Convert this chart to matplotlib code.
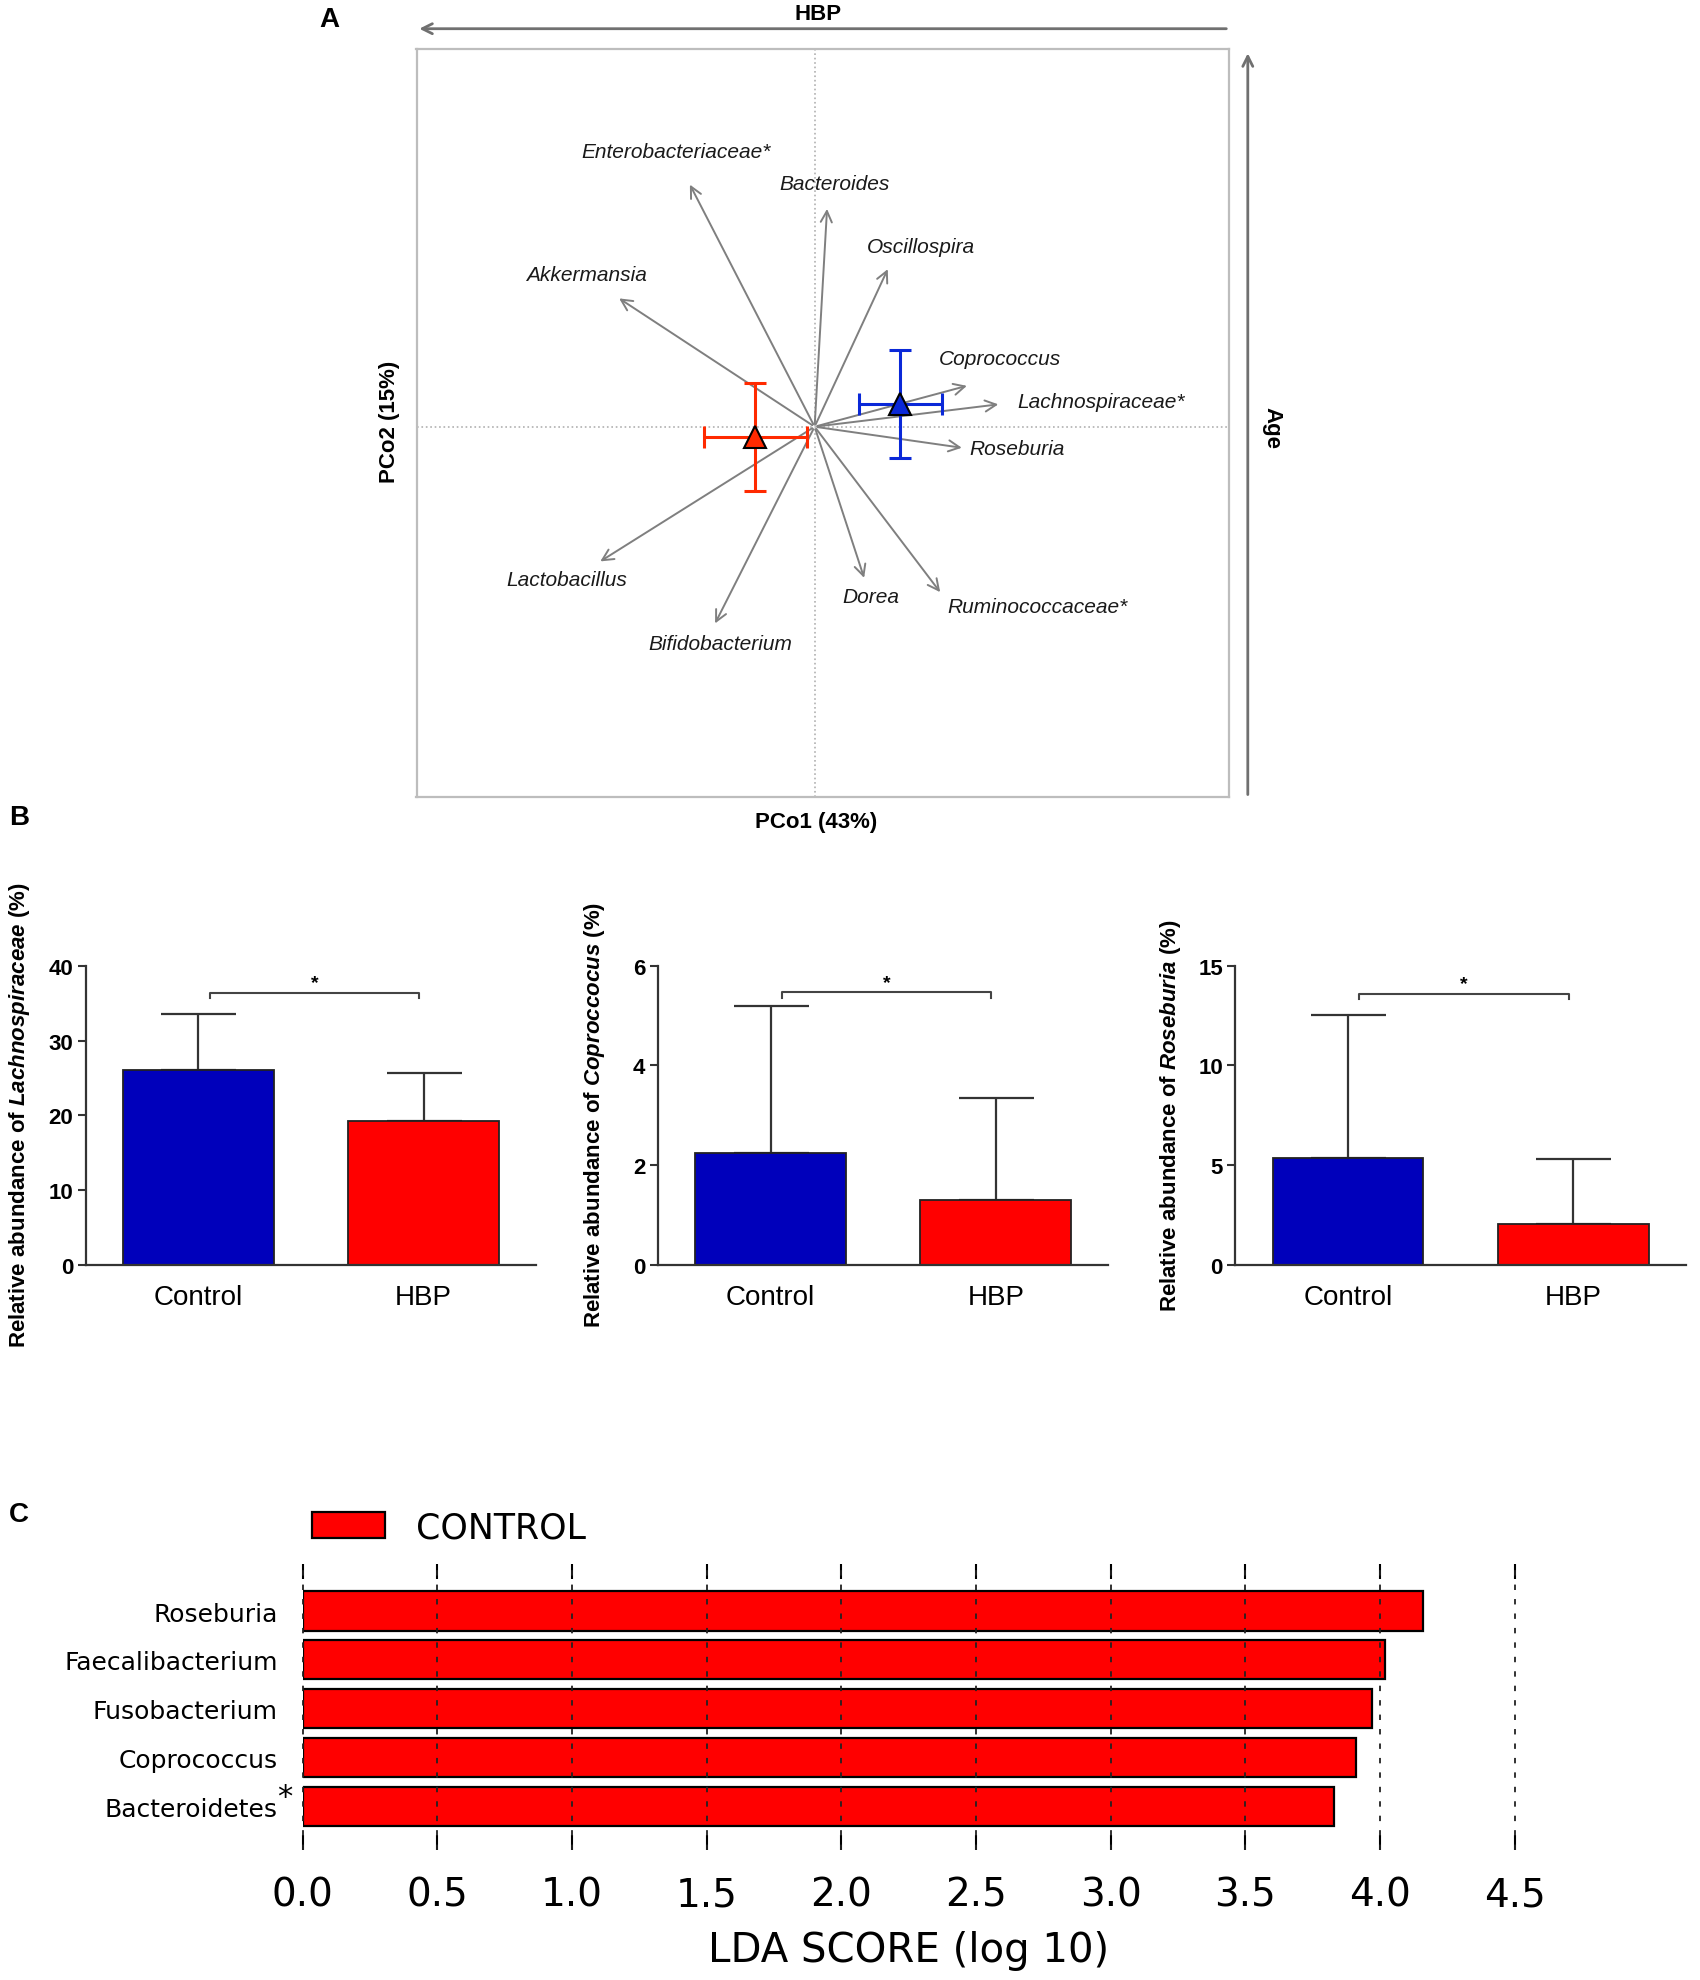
import matplotlib
matplotlib.use('Agg')
import matplotlib.pyplot as plt
from matplotlib.patches import Patch

plt.rcParams['font.family'] = ['Liberation Sans', 'DejaVu Sans']
plt.rcParams['mathtext.fontset'] = 'custom'
plt.rcParams['mathtext.rm'] = 'Liberation Sans:bold'
plt.rcParams['mathtext.it'] = 'Liberation Sans:italic:bold'
plt.rcParams['mathtext.bf'] = 'Liberation Sans:bold'

# --- panel A: PCoA biplot ---
taxa = ['Enterobacteriaceae*', 'Bacteroides', 'Oscillospira', 'Akkermansia', 'Coprococcus',
        'Lachnospiraceae*', 'Roseburia', 'Ruminococcaceae*', 'Dorea', 'Bifidobacterium', 'Lactobacillus']
load_x = [-1.00, 0.10, 0.59, -1.57, 1.23, 1.48, 1.19, 1.01, 0.40, -0.80, -1.72]
load_y = [1.94, 1.75, 1.27, 1.03, 0.33, 0.18, -0.17, -1.33, -1.22, -1.58, -1.08]
groups = ['HBP', 'Control']
cent_x = [-0.47, 0.68]
cent_y = [-0.08, 0.18]
err_x = [0.41, 0.33]
err_y = [0.43, 0.43]

# --- panel B: relative abundances ---
bar_groups = ['Control', 'HBP']
lachno_mean = [26.0, 19.2]
lachno_sd = [7.5, 6.4]
copro_mean = [2.25, 1.3]
copro_sd = [2.95, 2.05]
rose_mean = [5.35, 2.05]
rose_sd = [7.2, 3.25]

# --- panel C: LEfSe ---
lda_taxa = ['Roseburia', 'Faecalibacterium', 'Fusobacterium', 'Coprococcus', 'Bacteroidetes']
lda_score = [4.16, 4.02, 3.97, 3.91, 3.83]

# layout only
label_pos = [(-1.10, 2.18, 'center'), (0.16, 1.93, 'center'), (0.84, 1.43, 'center'),
             (-1.81, 1.21, 'center'), (1.47, 0.54, 'center'), (1.61, 0.20, 'left'),
             (1.23, -0.17, 'left'), (1.05, -1.43, 'left'), (0.45, -1.35, 'center'),
             (-0.75, -1.72, 'center'), (-1.97, -1.21, 'center')]
group_colors = ['#ff2a00', '#0a28d8']

fig = plt.figure(figsize=(17, 19.81), dpi=100)

# ---------------- A ----------------
axA = fig.add_axes([0.245, 0.597, 0.478, 0.378])
axA.set_xlim(-3.16, 3.29)
axA.set_ylim(-2.94, 3.00)
axA.set_xticks([])
axA.set_yticks([])
for s in axA.spines.values():
    s.set_color('#bdbdbd')
    s.set_linewidth(1.6)
axA.axhline(0, color='#b0b0b0', ls=':', lw=1.2, zorder=0)
axA.axvline(0, color='#b0b0b0', ls=':', lw=1.2, zorder=0)

for i, name in enumerate(taxa):
    axA.annotate('', xy=(load_x[i], load_y[i]), xytext=(0, 0),
                 arrowprops=dict(arrowstyle='->', color='#7f7f7f', lw=1.4, mutation_scale=20))
    lx, ly, ha = label_pos[i]
    axA.text(lx, ly, name, style='italic', fontsize=15, color='#1a1a1a', ha=ha, va='center')

for i in range(len(groups)):
    axA.errorbar(cent_x[i], cent_y[i], xerr=err_x[i], yerr=err_y[i], fmt='none',
                 ecolor=group_colors[i], elinewidth=2.2, capsize=8, capthick=2.2, zorder=3)
    axA.plot(cent_x[i], cent_y[i], marker='^', markersize=16, color=group_colors[i],
             markeredgecolor='black', markeredgewidth=1.5, zorder=4)

# surrounding arrows and labels
fig.patches.append(matplotlib.patches.FancyArrowPatch(
    (0.723, 0.985), (0.245, 0.985), transform=fig.transFigure, arrowstyle='->',
    mutation_scale=18, color='#707070', lw=2))
fig.patches.append(matplotlib.patches.FancyArrowPatch(
    (0.734, 0.597), (0.734, 0.974), transform=fig.transFigure, arrowstyle='->',
    mutation_scale=18, color='#707070', lw=2))
fig.text(0.481, 0.9925, 'HBP', fontsize=16, fontweight='bold', ha='center', va='center')
fig.text(0.748, 0.784, 'Age', fontsize=16, fontweight='bold', ha='center', va='center', rotation=-90)
fig.text(0.229, 0.787, 'PCo2 (15%)', fontsize=16, fontweight='bold', ha='center', va='center', rotation=90)
fig.text(0.480, 0.585, 'PCo1 (43%)', fontsize=16, fontweight='bold', ha='center', va='center')

fig.text(0.194, 0.990, 'A', fontsize=20, fontweight='bold', ha='center', va='center')
fig.text(0.011, 0.587, 'B', fontsize=20, fontweight='bold', ha='center', va='center')
fig.text(0.011, 0.235, 'C', fontsize=20, fontweight='bold', ha='center', va='center')

# ---------------- B ----------------
b_means = [lachno_mean, copro_mean, rose_mean]
b_sds = [lachno_sd, copro_sd, rose_sd]
b_names = ['Lachnospiraceae', 'Coproccocus', 'Roseburia']
b_ymax = [40, 6, 15]
b_ticks = [[0, 10, 20, 30, 40], [0, 2, 4, 6], [0, 5, 10, 15]]
b_bracket = [36.4, 5.47, 13.6]
b_left = [0.0504, 0.387, 0.7267]
b_label_x = [0.019, 0.357, 0.696]
bar_colors = ['#0000bb', '#ff0000']

for k in range(3):
    ax = fig.add_axes([b_left[k], 0.361, 0.265, 0.151])
    x = list(range(len(bar_groups)))
    ax.bar(x, b_means[k], width=0.67, color=bar_colors, edgecolor='#222222', linewidth=1.3, zorder=2)
    ax.errorbar(x, b_means[k], yerr=[[0, 0], b_sds[k]], fmt='none', ecolor='#333333',
                elinewidth=1.6, capsize=27, capthick=1.6, zorder=1)
    ax.set_xlim(-0.5, 1.5)
    ax.set_ylim(0, b_ymax[k])
    ax.set_yticks(b_ticks[k])
    ax.set_xticks(x)
    ax.set_xticklabels(bar_groups, fontsize=20)
    for t in ax.get_yticklabels():
        t.set_fontweight('bold')
        t.set_fontsize(16)
    ax.tick_params(axis='x', length=0, pad=14)
    ax.tick_params(axis='y', length=6, width=1.5, color='#333333', pad=3)
    for s in ['top', 'right']:
        ax.spines[s].set_visible(False)
    for s in ['left', 'bottom']:
        ax.spines[s].set_color('#333333')
        ax.spines[s].set_linewidth(1.6)
    ax.set_ylabel('Relative abundance of $\\mathit{' + b_names[k] + '}$ (%)',
                  fontsize=16, fontweight='bold')
    ax.yaxis.set_label_coords(b_label_x[k], 0.437, transform=fig.transFigure)
    # significance bracket
    h = b_bracket[k]
    d = b_ymax[k] * 0.018
    ax.plot([0.05, 0.05, 0.98, 0.98], [h - d, h, h, h - d], color='#444444', lw=1.5, clip_on=False)
    ax.text(0.515, h + b_ymax[k] * 0.005, '*', fontsize=14, fontweight='bold', ha='center', va='bottom')

# ---------------- C ----------------
axC = fig.add_axes([0.178, 0.0655, 0.713, 0.1443])
ypos = list(range(len(lda_taxa)))[::-1]
axC.barh(ypos, lda_score, height=0.8, color='#ff0000', edgecolor='black', linewidth=1.6, zorder=2)
axC.set_xlim(0, 4.5)
axC.set_ylim(-0.9, 4.955)
xt = [0.0, 0.5, 1.0, 1.5, 2.0, 2.5, 3.0, 3.5, 4.0, 4.5]
axC.set_xticks(xt)
axC.set_xticklabels(['%.1f' % v for v in xt], family='DejaVu Sans', fontsize=28)
for v in xt:
    axC.axvline(v, color='#222222', ls=(0, (3, 5)), lw=1.3, zorder=3, clip_on=False)
axC.set_yticks(ypos)
axC.set_yticklabels(lda_taxa, family='DejaVu Sans', fontsize=18)
axC.tick_params(axis='y', length=0, pad=18)
axC.tick_params(axis='x', direction='in', top=True, bottom=True, length=11, width=1.5, pad=18)
for s in axC.spines.values():
    s.set_visible(False)
axC.set_xlabel('LDA SCORE (log 10)', family='DejaVu Sans', fontsize=29, labelpad=12)
axC.annotate('*', xy=(0, ypos[-1]), xycoords=('axes fraction', 'data'), xytext=(-13, 7),
             textcoords='offset points', fontsize=22, family='DejaVu Sans', ha='center', va='center')
axC.legend(handles=[Patch(facecolor='#ff0000', edgecolor='black', linewidth=1.6, label='CONTROL')],
           loc='center left', bbox_to_anchor=(-0.018, 1.13), frameon=False,
           prop={'family': 'DejaVu Sans', 'size': 25}, handlelength=2.1, handleheight=0.75,
           handletextpad=0.9)

fig.savefig('out.png', dpi=100)
